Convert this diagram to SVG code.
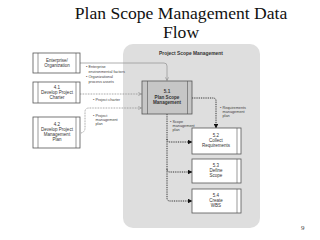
<svg xmlns="http://www.w3.org/2000/svg" width="320" height="240" viewBox="0 0 320 240">
<defs>
<style>
.t{font-family:"Liberation Sans",Arial,sans-serif;fill:#333;text-anchor:middle}
.box{fill:#fff;stroke:#555;stroke-width:0.8}
.in{stroke:#555;stroke-width:0.6}
.lbl{font-family:"Liberation Sans",Arial,sans-serif;fill:#444;font-size:3.8px}
.g{fill:none;stroke:#9a9a9a;stroke-width:0.8}
.gd{fill:none;stroke:#8a8a8a;stroke-width:0.9;stroke-dasharray:0.8 0.8}
.kd{fill:none;stroke:#222;stroke-width:1;stroke-dasharray:0.9 0.9}
</style>
<marker id="oa" viewBox="0 0 10 10" refX="9" refY="5" markerWidth="4" markerHeight="4" orient="auto" markerUnits="userSpaceOnUse">
<path d="M1,1 L9,5 L1,9" fill="none" stroke="#888" stroke-width="1.4"/>
</marker>
<marker id="fa" viewBox="0 0 10 10" refX="9" refY="5" markerWidth="4.5" markerHeight="4.5" orient="auto" markerUnits="userSpaceOnUse">
<path d="M0,0 L10,5 L0,10 z" fill="#111"/>
</marker>
</defs>
<rect width="320" height="240" fill="#fff"/>
<text x="181" y="19" font-family="Liberation Serif,'Times New Roman',serif" font-size="17.6" text-anchor="middle" fill="#111">Plan Scope Management Data</text>
<text x="181" y="38" font-family="Liberation Serif,'Times New Roman',serif" font-size="17.6" text-anchor="middle" fill="#111">Flow</text>

<g id="panel">
<rect x="123" y="44" width="137" height="184" rx="10" fill="#dedede"/>
<text x="191" y="55" class="t" font-size="4.9" font-weight="bold" fill="#222">Project Scope Management</text>
</g>

<g id="connectors">
<path class="g" d="M80,63 H164 Q167,63 167,66 V80.5" marker-end="url(#oa)"/>
<path class="gd" d="M80,94 H141.5" marker-end="url(#oa)"/>
<path class="gd" d="M81,133 Q85,132 85,128 V112 Q85,108 89,108 H141.5" marker-end="url(#oa)"/>
<path class="kd" d="M192,98 H213 Q216,98 216,101 V128" marker-end="url(#fa)"/>
<path class="kd" d="M167,114 V139 Q167,142 170,142 H192" marker-end="url(#fa)"/>
<path class="kd" d="M167,139 V169 Q167,172 170,172 H192" marker-end="url(#fa)"/>
<path class="kd" d="M167,169 V198 Q167,201 170,201 H192" marker-end="url(#fa)"/>
<g class="lbl">
<text x="86" y="68">• Enterprise</text>
<text x="88.5" y="72.5">environmental factors</text>
<text x="86" y="78">• Organizational</text>
<text x="88.5" y="82.5">process assets</text>
<text x="93" y="101">• Project charter</text>
<text x="93" y="117">• Project</text>
<text x="95.5" y="121">management</text>
<text x="95.5" y="125">plan</text>
<text x="170" y="123">• Scope</text>
<text x="172.5" y="127">management</text>
<text x="172.5" y="131">plan</text>
<text x="220" y="109">• Requirements</text>
<text x="222.5" y="113">management</text>
<text x="222.5" y="117">plan</text>
</g>
</g>

<g id="n-enterprise">
<rect class="box" x="33" y="53" width="47" height="20"/>
<line class="in" x1="38" y1="53" x2="38" y2="73"/><line class="in" x1="76" y1="53" x2="76" y2="73"/>
<text class="t" x="57" y="62" font-size="4.5">Enterprise/</text>
<text class="t" x="57" y="67" font-size="4.5">Organization</text>
</g>
<g id="n-4-1">
<rect class="box" x="33" y="82" width="47" height="21"/>
<line class="in" x1="38" y1="82" x2="38" y2="103"/><line class="in" x1="76" y1="82" x2="76" y2="103"/>
<text class="t" x="57" y="89" font-size="4.5">4.1</text>
<text class="t" x="57" y="94" font-size="4.5">Develop Project</text>
<text class="t" x="57" y="99" font-size="4.5">Charter</text>
</g>
<g id="n-4-2">
<rect class="box" x="33" y="117" width="47" height="31"/>
<line class="in" x1="38" y1="117" x2="38" y2="148"/><line class="in" x1="76" y1="117" x2="76" y2="148"/>
<text class="t" x="57" y="126" font-size="4.5">4.2</text>
<text class="t" x="57" y="131" font-size="4.5">Develop Project</text>
<text class="t" x="57" y="136" font-size="4.5">Management</text>
<text class="t" x="57" y="141" font-size="4.5">Plan</text>
</g>
<g id="n-5-1">
<rect x="142" y="81" width="50" height="33" fill="#c6c6c6" stroke="#555" stroke-width="0.8"/>
<line class="in" x1="147.5" y1="81" x2="147.5" y2="114"/><line class="in" x1="187.5" y1="81" x2="187.5" y2="114"/>
<text class="t" x="167" y="93" font-size="4.6" font-weight="bold" fill="#222">5.1</text>
<text class="t" x="167" y="98.5" font-size="4.6" font-weight="bold" fill="#222">Plan Scope</text>
<text class="t" x="167" y="104" font-size="4.6" font-weight="bold" fill="#222">Management</text>
</g>
<g id="n-5-2">
<rect class="box" x="192" y="128" width="49" height="26"/>
<line class="in" x1="237" y1="128" x2="237" y2="154"/>
<text class="t" x="216" y="137" font-size="4.5">5.2</text>
<text class="t" x="216" y="142" font-size="4.5">Collect</text>
<text class="t" x="216" y="147" font-size="4.5">Requirements</text>
</g>
<g id="n-5-3">
<rect class="box" x="192" y="159" width="49" height="24"/>
<line class="in" x1="237" y1="159" x2="237" y2="183"/>
<text class="t" x="216" y="167" font-size="4.5">5.3</text>
<text class="t" x="216" y="172" font-size="4.5">Define</text>
<text class="t" x="216" y="177" font-size="4.5">Scope</text>
</g>
<g id="n-5-4">
<rect class="box" x="192" y="189" width="49" height="24"/>
<line class="in" x1="237" y1="189" x2="237" y2="213"/>
<text class="t" x="216" y="197" font-size="4.5">5.4</text>
<text class="t" x="216" y="202" font-size="4.5">Create</text>
<text class="t" x="216" y="207" font-size="4.5">WBS</text>
</g>
<text x="301" y="230" font-family="Liberation Serif,'Times New Roman',serif" font-size="7" fill="#444">9</text>
</svg>
